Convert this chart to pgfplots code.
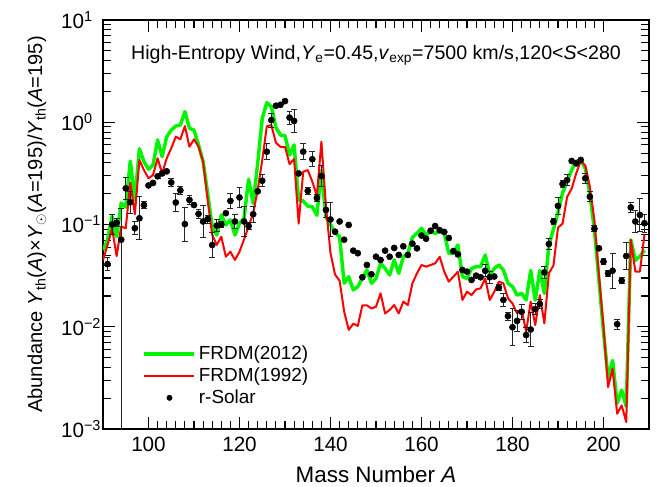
\documentclass[border=0pt]{standalone}
\usepackage{fontspec}
\setmainfont{Liberation Sans}
\usepackage{pgfplots}
\usepackage{pgfplotstable}
\pgfplotsset{compat=1.18}

\pgfplotstableread{
A G R
90 0.0562 0.0447
91 0.0708 0.0631
92 0.120 0.0912
93 0.0759 0.0490
94 0.162 0.0955
95 0.148 0.0918
96 0.417 0.257
97 0.174 0.126
98 0.550 0.428
99 0.412 0.341
100 0.347 0.283
101 0.382 0.305
102 0.671 0.444
103 0.461 0.316
104 0.723 0.444
105 0.839 0.556
106 0.918 0.723
107 0.940 0.681
108 1.268 0.918
109 0.873 0.577
110 0.839 0.681
111 0.600 0.577
112 0.412 0.412
113 0.202 0.174
114 0.0955 0.0794
115 0.0789 0.0631
116 0.124 0.0760
117 0.0989 0.0484
118 0.111 0.0542
119 0.0789 0.0450
120 0.1026 0.0542
121 0.115 0.0716
122 0.277 0.0953
123 0.161 0.129
124 0.396 0.217
125 1.091 0.428
126 1.556 0.912
127 1.419 0.940
128 0.891 0.631
129 0.750 0.575
130 0.741 0.575
131 0.479 0.389
132 0.600 0.437
133 0.174 0.102
134 0.170 0.328
135 0.151 0.341
136 0.149 0.263
137 0.123 0.191
138 0.339 0.646
139 0.1175 0.151
140 0.100 0.0525
141 0.0832 0.0324
142 0.0759 0.0282
143 0.0266 0.0141
144 0.0309 0.00933
145 0.0229 0.0107
146 0.0247 0.0102
147 0.0297 0.0162
148 0.0359 0.0162
149 0.0266 0.0151
150 0.0297 0.0157
151 0.0417 0.0212
152 0.0372 0.0135
153 0.0321 0.0146
154 0.0450 0.0163
155 0.0333 0.0135
156 0.0484 0.0176
157 0.0522 0.0163
158 0.0750 0.0266
159 0.0820 0.0333
160 0.0918 0.0402
161 0.0789 0.0387
162 0.0851 0.0402
163 0.0820 0.0417
164 0.0851 0.0484
165 0.0820 0.0346
166 0.0522 0.0276
167 0.0522 0.0309
168 0.0631 0.0346
169 0.0309 0.0183
170 0.0297 0.0220
171 0.0372 0.0204
172 0.0387 0.0232
173 0.0387 0.0238
174 0.0504 0.0297
175 0.0321 0.0183
176 0.0372 0.0220
177 0.0402 0.0276
178 0.0359 0.0266
179 0.0266 0.0190
180 0.0247 0.0169
181 0.0204 0.0135
182 0.0212 0.0146
183 0.0183 0.00895
184 0.0355 0.0176
185 0.0182 0.0104
186 0.0355 0.0204
187 0.0212 0.0108
188 0.0631 0.0333
189 0.0891 0.0398
190 0.132 0.0933
191 0.204 0.102
192 0.263 0.186
193 0.341 0.224
194 0.417 0.316
195 0.422 0.419
196 0.355 0.376
197 0.200 0.234
198 0.0891 0.110
199 0.0282 0.0324
200 0.00891 0.0100
201 0.00316 0.00257
202 0.00468 0.00389
203 0.00178 0.00141
204 0.00240 0.00170
205 0.00166 0.00117
206 0.0708 0.0708
207 0.0447 0.0347
208 0.0490 0.0347
209 0.0562 0.0794
}\curves

\pgfplotstableread{
A Y
100 0.241
101 0.255
103 0.316
104 0.331
110 0.155
117 0.129
124 0.211
128 1.45
129 1.48
130 1.61
133 0.316
141 0.085
142 0.107
143 0.071
144 0.099
145 0.0555
146 0.0524
147 0.0305
148 0.0402
149 0.0326
150 0.0484
151 0.045
152 0.0555
153 0.0484
154 0.059
155 0.0504
156 0.0612
157 0.0504
158 0.065
159 0.0585
160 0.078
161 0.0726
162 0.087
163 0.0966
164 0.088
165 0.0845
166 0.0738
167 0.055
168 0.051
169 0.0359
170 0.0346
171 0.0287
172 0.0316
173 0.0305
176 0.031
193 0.418
194 0.396
195 0.428
199 0.0585
}\solarA

\pgfplotstableread{
A Y ep em
91 0.041 0.161 0.139
92 0.100 0.259 0.206
93 0.104 0.096 0.088
94 0.071 1.042 0.9999
95 0.226 0.274 0.215
96 0.165 0.288 0.224
97 0.092 0.161 0.139
98 0.115 0.622 0.383
99 0.155 0.086 0.079
102 0.296 0.047 0.045
105 0.258 0.096 0.088
106 0.164 0.230 0.187
107 0.216 0.096 0.088
108 0.101 0.466 0.318
109 0.174 0.109 0.098
111 0.127 0.096 0.088
112 0.107 0.429 0.300
113 0.113 0.096 0.088
114 0.063 0.318 0.241
115 0.0976 0.148 0.129
116 0.100 0.072 0.067
118 0.170 0.183 0.155
119 0.107 0.161 0.139
120 0.184 0.259 0.206
121 0.107 0.403 0.287
122 0.0966 0.072 0.067
123 0.126 0.202 0.168
125 0.268 0.140 0.123
126 0.515 0.194 0.162
127 1.05 0.169 0.145
131 1.11 0.161 0.139
132 1.03 0.288 0.224
134 0.515 0.194 0.162
135 0.213 0.072 0.067
136 0.435 0.183 0.155
137 0.182 0.072 0.067
138 0.298 0.259 0.206
139 0.139 0.183 0.155
140 0.112 0.479 0.324
174 0.0353 0.140 0.123
175 0.0305 0.140 0.123
177 0.0241 0.072 0.067
178 0.0183 0.161 0.139
179 0.0127 0.096 0.088
180 0.0099 0.514 0.339
181 0.0114 0.274 0.215
182 0.0140 0.183 0.155
183 0.0083 0.183 0.155
184 0.0094 0.479 0.324
185 0.0149 0.122 0.109
186 0.0167 0.096 0.088
187 0.034 0.148 0.129
188 0.0646 0.122 0.109
189 0.107 0.072 0.067
190 0.152 0.202 0.168
191 0.249 0.072 0.067
192 0.272 0.122 0.109
196 0.283 0.122 0.109
197 0.187 0.122 0.109
198 0.091 0.072 0.067
200 0.0433 0.072 0.067
201 0.0333 0.072 0.067
202 0.0353 0.479 0.324
203 0.0106 0.122 0.109
204 0.0282 0.072 0.067
205 0.0492 0.349 0.259
206 0.147 0.109 0.098
207 0.107 0.274 0.215
208 0.124 0.445 0.308
209 0.103 0.230 0.187
}\solarB

\definecolor{frdmgreen}{RGB}{0,245,0}
\definecolor{frdmred}{RGB}{255,0,0}

\begin{document}
\begin{tikzpicture}
\begin{axis}[
  scale only axis,
  width=409.5pt, height=306.75pt,
  xmin=90, xmax=210,
  ymode=log, ymin=1e-3, ymax=10,
  xtick={100,120,...,200},
  minor x tick num=9,
  ytick={1e-3,1e-2,1e-1,1,10},
  yticklabels={10\textsuperscript{−3},10\textsuperscript{−2},10\textsuperscript{−1},10\textsuperscript{0},10\textsuperscript{1}},
  tick align=inside,
  major tick length=9pt,
  minor tick length=6pt,
  every tick/.style={black, line width=0.8pt},
  axis line style={line width=1.1pt},
  /pgf/number format/assume math mode=true,
  ticklabel style={font=\fontsize{15.5}{17}\selectfont},
  xticklabel style={yshift=-2.5pt},
  yticklabel style={anchor=west, xshift=-35pt},
  xlabel={Mass Number \textit{A}},
  xlabel style={at={(axis description cs:0.5,-0.13)}, anchor=base, font=\fontsize{16.8}{19}\selectfont},
  ylabel={Abundance \textit{Y}\textsubscript{th}(\textit{A})×\textit{Y}\textsubscript{$\odot$}(\textit{A}=195)/\textit{Y}\textsubscript{th}(\textit{A}=195)},
  ylabel style={at={(axis description cs:-0.121,0.5)}, anchor=center, font=\fontsize{15.1}{17}\selectfont},
  legend style={at={(axis description cs:0.065,0.216)}, anchor=north west, draw=none, fill=none,
    font=\fontsize{14.2}{17}\selectfont, row sep=0.6pt},
  legend cell align=left,
  legend image code/.code={\draw[#1] (0pt,0pt) -- (37.5pt,0pt);},
]
\addplot[frdmgreen, line width=2.6pt, line join=round] table[x=A, y=G] {\curves};
\addlegendentry{FRDM(2012)}
\addplot[frdmred, line width=1.5pt, line join=round] table[x=A, y=R] {\curves};
\addlegendentry{FRDM(1992)}
\addplot[only marks, mark=*, mark size=2.3pt, black,
  legend image code/.code={\fill[black] (18.75pt,0pt) circle (2pt);}]
  table[x=A, y=Y] {\solarA};
\addlegendentry{r-Solar}
\addplot[only marks, mark=*, mark size=2.3pt, black, forget plot,
  error bars/.cd, y dir=both, y explicit relative,
  error bar style={black!85, line width=0.7pt},
  error mark options={rotate=90, mark size=2.2pt, black!85, line width=0.7pt}]
  table[x=A, y=Y, y error plus=ep, y error minus=em] {\solarB};
\node[font=\fontsize{14.7}{16}\selectfont] at (rel axis cs:0.5,0.914)
  {High-Entropy Wind,\textit{Y}\textsubscript{e}=0.45,\textit{v}\textsubscript{exp}=7500 km/s,120<\textit{S}<280};
\end{axis}
\pgfresetboundingbox
\path[use as bounding box] ([xshift=-77.25pt,yshift=-42.75pt]current axis.south west) rectangle ([xshift=5.25pt,yshift=15pt]current axis.north east);
\end{tikzpicture}
\end{document}
